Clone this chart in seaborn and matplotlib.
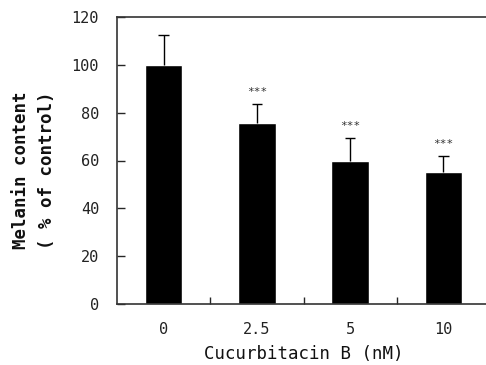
import numpy as np
import pandas as pd
import matplotlib
matplotlib.use("Agg")
import matplotlib.pyplot as plt
import seaborn as sns

# data
doses = ["0", "2.5", "5", "10"]
melanin = [100, 75.5, 60, 55]
sd = [12.5, 8, 9.5, 7]
stars = ["", "***", "***", "***"]

sns.set_style("white")
plt.rcParams['font.family'] = ['DejaVu Sans Mono', 'DejaVu Sans']

df = pd.DataFrame({"dose": doses, "melanin": melanin, "sd": sd})

fig = plt.figure(figsize=(4.86, 3.65), dpi=100)
ax = fig.add_axes([117 / 486, 61 / 365, 373 / 486, 287 / 365])

sns.barplot(data=df, x="dose", y="melanin", color="black", width=0.4,
            errorbar=None, saturation=1, ax=ax)
# upper error bars only
xs = np.arange(len(doses))
tops = df["melanin"] + df["sd"]
ax.vlines(xs, df["melanin"], tops, color="black", lw=1)
ax.hlines(tops, xs - 0.055, xs + 0.055, color="black", lw=1)

for i, s in enumerate(stars):
    if s:
        ax.text(i, tops[i] + 3, s, ha="center", va="bottom",
                fontsize=8, color="#333333")

ax.set_xlim(-0.5, 3.5)
ax.set_ylim(0, 120)
ax.set_yticks(range(0, 121, 20))
ax.set_xticks(xs)
ax.set_xticklabels(doses)
ax.set_xticks([0.5, 1.5, 2.5], minor=True)
ax.tick_params(axis="x", which="major", length=0, pad=13, labelsize=11, labelcolor="#222222")
ax.tick_params(axis="x", which="minor", direction="in", length=5, width=1, bottom=True)
ax.tick_params(axis="y", direction="in", length=6, width=1, left=True, pad=13,
               labelsize=11, labelcolor="#222222")

for side in ["left", "bottom", "top"]:
    ax.spines[side].set_visible(True)
    ax.spines[side].set_color("#333333")
    ax.spines[side].set_linewidth(1.2)
ax.spines["right"].set_visible(False)

ax.set_xlabel("Cucurbitacin B (nM)", fontsize=12.5, labelpad=6, color="#111111")
ax.set_ylabel("Melanin content\n( % of control)", fontsize=12.5, fontweight="bold",
              color="#111111", linespacing=1.6)
ax.yaxis.set_label_coords(-0.163, 0.465)

fig.savefig("out.png", dpi=100)
